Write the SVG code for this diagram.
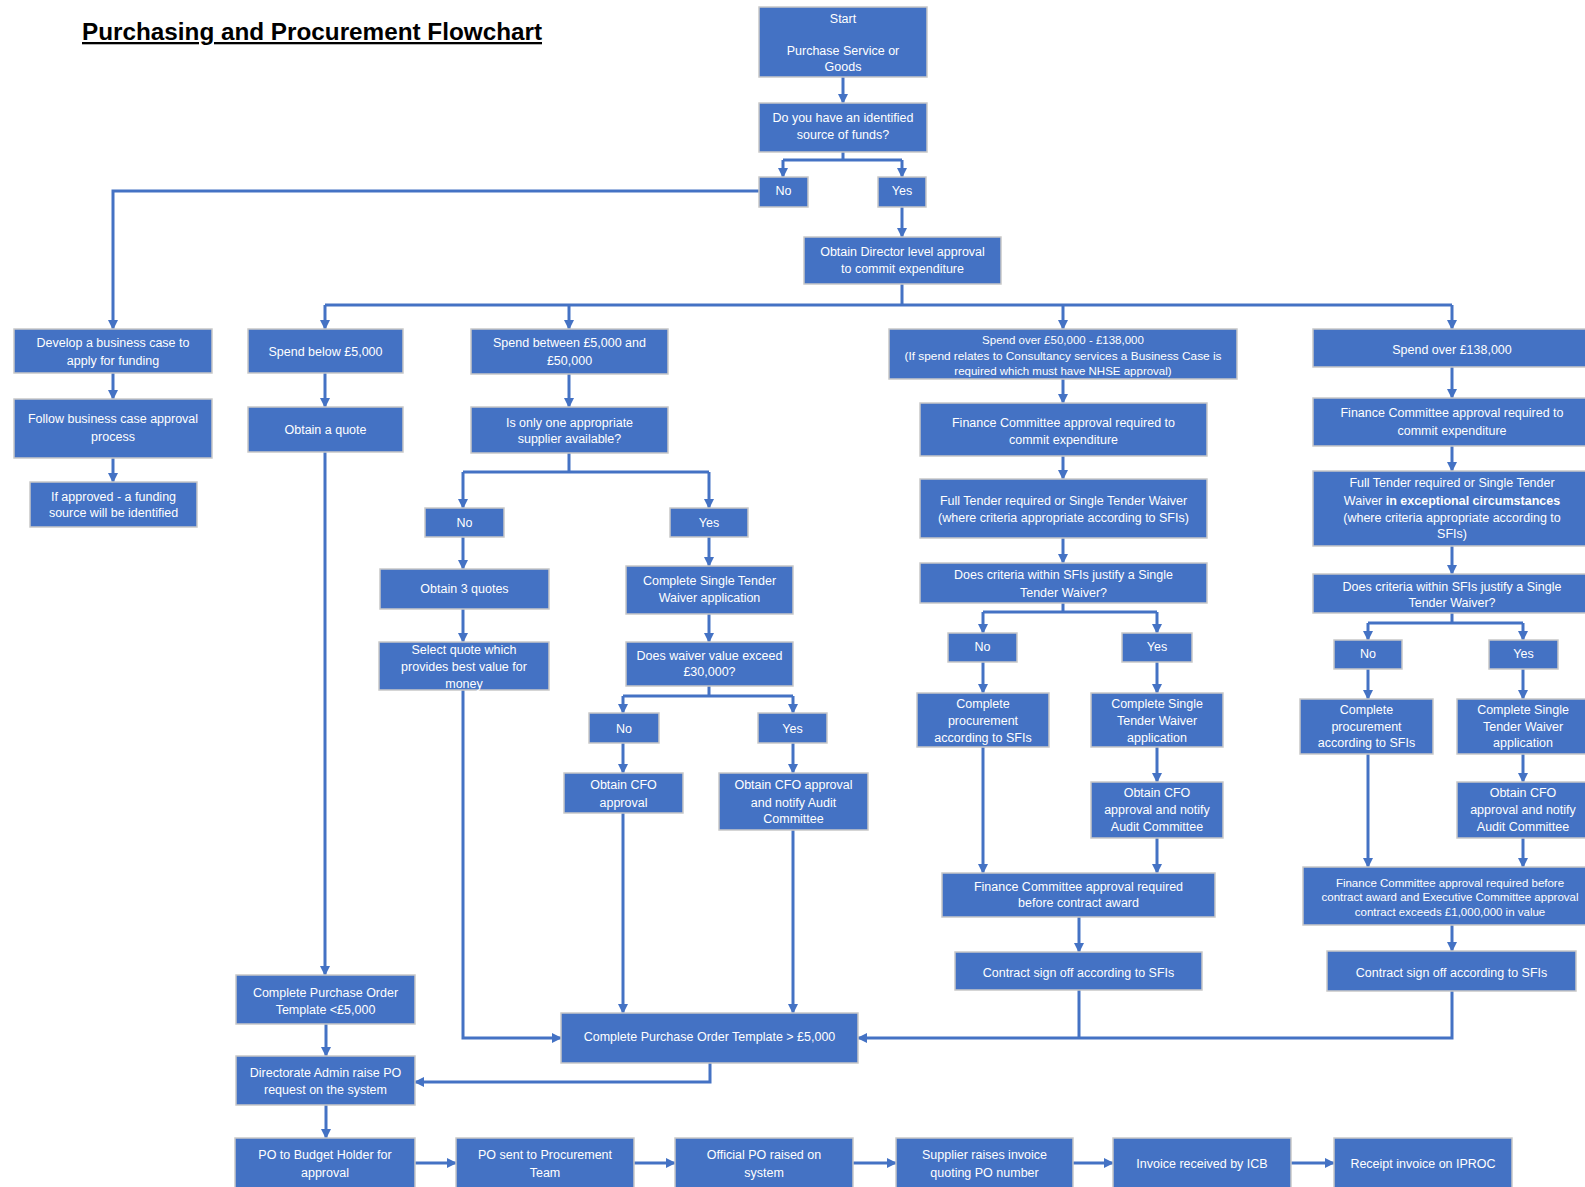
<svg xmlns="http://www.w3.org/2000/svg" width="1585" height="1187" viewBox="0 0 1585 1187">
<style>
.box{fill:#4472C4;stroke:#c8c8c8;stroke-width:1.5}
.t{font-family:"Liberation Sans",Arial,sans-serif;font-size:12.5px;fill:#ffffff;text-anchor:middle;dominant-baseline:central}
.s{font-size:11.5px}
.c{fill:none;stroke:#4472C4;stroke-width:3}
.ca{fill:none;stroke:#4472C4;stroke-width:3;marker-end:url(#ah)}
.title{font-family:"Liberation Sans",Arial,sans-serif;font-size:23px;font-weight:bold;fill:#000;text-decoration:underline}
</style>
<defs>
<marker id="ah" viewBox="0 0 10 10" markerWidth="10" markerHeight="10" refX="9" refY="5" orient="auto" markerUnits="userSpaceOnUse">
<path d="M0,0 L10,5 L0,10 z" fill="#4472C4"/>
</marker>
</defs>
<rect width="1585" height="1187" fill="#ffffff"/>
<text class="title" x="82" y="40" textLength="460" lengthAdjust="spacingAndGlyphs">Purchasing and Procurement Flowchart</text>

<g id="connectors">
<path class="ca" d="M843,77 V103"/>
<path class="c" d="M843,152 V160 M783,160 H902"/>
<path class="ca" d="M783,160 V177"/>
<path class="ca" d="M902,160 V177"/>
<path class="ca" d="M759,191 H113 V329"/>
<path class="ca" d="M902,207 V237"/>
<path class="c" d="M902,284 V305 M325,305 H1452"/>
<path class="ca" d="M325,305 V329"/>
<path class="ca" d="M569,305 V329"/>
<path class="ca" d="M1063,305 V329"/>
<path class="ca" d="M1452,305 V329"/>
<path class="ca" d="M113,373 V399"/>
<path class="ca" d="M113,458 V482"/>
<path class="ca" d="M325,373 V407"/>
<path class="ca" d="M325,452 V975"/>
<path class="ca" d="M569,374 V407"/>
<path class="c" d="M569,453 V472 M463,472 H709"/>
<path class="ca" d="M463,472 V508"/>
<path class="ca" d="M709,472 V508"/>
<path class="ca" d="M463,537 V569"/>
<path class="ca" d="M463,609 V642"/>
<path class="ca" d="M463,690 V1038 H561"/>
<path class="ca" d="M709,537 V566"/>
<path class="ca" d="M709,614 V642"/>
<path class="c" d="M709,686 V696 M623,696 H793"/>
<path class="ca" d="M623,696 V713"/>
<path class="ca" d="M793,696 V713"/>
<path class="ca" d="M623,743 V773"/>
<path class="ca" d="M793,743 V773"/>
<path class="ca" d="M623,813 V1013"/>
<path class="ca" d="M793,830 V1013"/>
<path class="ca" d="M710,1063 V1082 H415"/>
<path class="ca" d="M326,1024 V1056"/>
<path class="ca" d="M326,1105 V1138"/>
<path class="ca" d="M415,1163 H456"/>
<path class="ca" d="M634,1163 H675"/>
<path class="ca" d="M853,1163 H896"/>
<path class="ca" d="M1073,1163 H1113"/>
<path class="ca" d="M1291,1163 H1334"/>
<path class="ca" d="M1063,379 V403"/>
<path class="ca" d="M1063,456 V479"/>
<path class="ca" d="M1063,538 V563"/>
<path class="c" d="M1063,603 V612 M983,612 H1157"/>
<path class="ca" d="M983,612 V633"/>
<path class="ca" d="M1157,612 V633"/>
<path class="ca" d="M983,662 V693"/>
<path class="ca" d="M1157,662 V693"/>
<path class="ca" d="M1157,747 V782"/>
<path class="ca" d="M983,747 V873"/>
<path class="ca" d="M1157,838 V873"/>
<path class="ca" d="M1079,917 V952"/>
<path class="c" d="M1079,990 V1038"/>
<path class="ca" d="M1452,367 V398"/>
<path class="ca" d="M1452,446 V471"/>
<path class="ca" d="M1452,546 V574"/>
<path class="c" d="M1452,613 V623 M1368,623 H1523"/>
<path class="ca" d="M1368,623 V640"/>
<path class="ca" d="M1523,623 V640"/>
<path class="ca" d="M1368,669 V699"/>
<path class="ca" d="M1523,669 V699"/>
<path class="ca" d="M1523,754 V782"/>
<path class="ca" d="M1368,754 V867"/>
<path class="ca" d="M1523,838 V867"/>
<path class="ca" d="M1452,925 V951"/>
<path class="ca" d="M1452,991 V1038 H858"/>
</g>

<g id="start"><rect class="box" x="759" y="7" width="168" height="70"/><text class="t" x="843" y="19">Start</text><text class="t" x="843" y="51">Purchase Service or</text><text class="t" x="843" y="67">Goods</text></g>
<g id="source"><rect class="box" x="759" y="103" width="168" height="49"/><text class="t" x="843" y="118">Do you have an identified</text><text class="t" x="843" y="135">source of funds?</text></g>
<g id="no1"><rect class="box" x="759" y="177" width="49" height="30"/><text class="t" x="783.5" y="191">No</text></g>
<g id="yes1"><rect class="box" x="878" y="177" width="48" height="30"/><text class="t" x="902" y="191">Yes</text></g>
<g id="director"><rect class="box" x="804" y="237" width="197" height="47"/><text class="t" x="902.5" y="252">Obtain Director level approval</text><text class="t" x="902.5" y="269">to commit expenditure</text></g>

<g id="develop"><rect class="box" x="14" y="329" width="198" height="44"/><text class="t" x="113" y="343">Develop a business case to</text><text class="t" x="113" y="361">apply for funding</text></g>
<g id="follow"><rect class="box" x="14" y="399" width="198" height="59"/><text class="t" x="113" y="419">Follow business case approval</text><text class="t" x="113" y="437">process</text></g>
<g id="approved"><rect class="box" x="30" y="482" width="167" height="45"/><text class="t" x="113.5" y="497">If approved - a funding</text><text class="t" x="113.5" y="513">source will be identified</text></g>

<g id="below"><rect class="box" x="248" y="329" width="155" height="44"/><text class="t" x="325.5" y="352">Spend below £5,000</text></g>
<g id="quote"><rect class="box" x="248" y="407" width="155" height="45"/><text class="t" x="325.5" y="430">Obtain a quote</text></g>

<g id="between"><rect class="box" x="471" y="329" width="197" height="45"/><text class="t" x="569.5" y="343">Spend between £5,000 and</text><text class="t" x="569.5" y="361">£50,000</text></g>
<g id="onlysupplier"><rect class="box" x="471" y="407" width="197" height="46"/><text class="t" x="569.5" y="423">Is only one appropriate</text><text class="t" x="569.5" y="439">supplier available?</text></g>
<g id="no2"><rect class="box" x="425" y="508" width="79" height="29"/><text class="t" x="464.5" y="523">No</text></g>
<g id="yes2"><rect class="box" x="670" y="508" width="78" height="29"/><text class="t" x="709" y="523">Yes</text></g>
<g id="quotes3"><rect class="box" x="380" y="569" width="169" height="40"/><text class="t" x="464.5" y="589">Obtain 3 quotes</text></g>
<g id="selectquote"><rect class="box" x="379" y="642" width="170" height="48"/><text class="t" x="464" y="650">Select quote which</text><text class="t" x="464" y="667">provides best value for</text><text class="t" x="464" y="684">money</text></g>
<g id="stw2"><rect class="box" x="626" y="566" width="167" height="48"/><text class="t" x="709.5" y="581">Complete Single Tender</text><text class="t" x="709.5" y="598">Waiver application</text></g>
<g id="waiver30k"><rect class="box" x="626" y="642" width="167" height="44"/><text class="t" x="709.5" y="656">Does waiver value exceed</text><text class="t" x="709.5" y="672">£30,000?</text></g>
<g id="no3"><rect class="box" x="589" y="713" width="70" height="30"/><text class="t" x="624" y="729">No</text></g>
<g id="yes3"><rect class="box" x="758" y="713" width="69" height="30"/><text class="t" x="792.5" y="729">Yes</text></g>
<g id="cfo3"><rect class="box" x="564" y="773" width="119" height="40"/><text class="t" x="623.5" y="785">Obtain CFO</text><text class="t" x="623.5" y="803">approval</text></g>
<g id="cfonotify3"><rect class="box" x="719" y="773" width="149" height="57"/><text class="t" x="793.5" y="785">Obtain CFO approval</text><text class="t" x="793.5" y="803">and notify Audit</text><text class="t" x="793.5" y="819">Committee</text></g>

<g id="po_lt"><rect class="box" x="236" y="975" width="179" height="49"/><text class="t" x="325.5" y="993">Complete Purchase Order</text><text class="t" x="325.5" y="1010">Template &lt;£5,000</text></g>
<g id="po_gt"><rect class="box" x="561" y="1013" width="297" height="50"/><text class="t" x="709.5" y="1037">Complete Purchase Order Template &gt; £5,000</text></g>
<g id="directorate"><rect class="box" x="236" y="1056" width="179" height="49"/><text class="t" x="325.5" y="1073">Directorate Admin raise PO</text><text class="t" x="325.5" y="1090">request on the system</text></g>
<g id="budget"><rect class="box" x="235" y="1138" width="180" height="56"/><text class="t" x="325" y="1155">PO to Budget Holder for</text><text class="t" x="325" y="1173">approval</text></g>
<g id="procteam"><rect class="box" x="456" y="1138" width="178" height="56"/><text class="t" x="545" y="1155">PO sent to Procurement</text><text class="t" x="545" y="1173">Team</text></g>
<g id="official"><rect class="box" x="675" y="1138" width="178" height="56"/><text class="t" x="764" y="1155">Official PO raised on</text><text class="t" x="764" y="1173">system</text></g>
<g id="supplier"><rect class="box" x="896" y="1138" width="177" height="56"/><text class="t" x="984.5" y="1155">Supplier raises invoice</text><text class="t" x="984.5" y="1173">quoting PO number</text></g>
<g id="icb"><rect class="box" x="1113" y="1138" width="178" height="56"/><text class="t" x="1202" y="1164">Invoice received by ICB</text></g>
<g id="iproc"><rect class="box" x="1334" y="1138" width="178" height="56"/><text class="t" x="1423" y="1164">Receipt invoice on IPROC</text></g>

<g id="over50k"><rect class="box" x="889" y="329" width="348" height="50"/><text class="t s" x="1063" y="340">Spend over £50,000 - £138,000</text><text class="t s" x="1063" y="356" textLength="317" lengthAdjust="spacingAndGlyphs">(If spend relates to Consultancy services a Business Case is</text><text class="t s" x="1063" y="371">required which must have NHSE approval)</text></g>
<g id="fc4"><rect class="box" x="920" y="403" width="287" height="53"/><text class="t" x="1063.5" y="423">Finance Committee approval required to</text><text class="t" x="1063.5" y="440">commit expenditure</text></g>
<g id="ft4"><rect class="box" x="920" y="479" width="287" height="59"/><text class="t" x="1063.5" y="501">Full Tender required or Single Tender Waiver</text><text class="t" x="1063.5" y="518">(where criteria appropriate according to SFIs)</text></g>
<g id="crit4"><rect class="box" x="920" y="563" width="287" height="40"/><text class="t" x="1063.5" y="575">Does criteria within SFIs justify a Single</text><text class="t" x="1063.5" y="593">Tender Waiver?</text></g>
<g id="no4"><rect class="box" x="948" y="633" width="69" height="29"/><text class="t" x="982.5" y="647">No</text></g>
<g id="yes4"><rect class="box" x="1122" y="633" width="70" height="29"/><text class="t" x="1157" y="647">Yes</text></g>
<g id="cp4"><rect class="box" x="917" y="693" width="132" height="54"/><text class="t" x="983" y="704">Complete</text><text class="t" x="983" y="721">procurement</text><text class="t" x="983" y="738">according to SFIs</text></g>
<g id="stw4"><rect class="box" x="1091" y="693" width="132" height="54"/><text class="t" x="1157" y="704">Complete Single</text><text class="t" x="1157" y="721">Tender Waiver</text><text class="t" x="1157" y="738">application</text></g>
<g id="cfo4"><rect class="box" x="1091" y="782" width="132" height="56"/><text class="t" x="1157" y="793">Obtain CFO</text><text class="t" x="1157" y="810">approval and notify</text><text class="t" x="1157" y="827">Audit Committee</text></g>
<g id="fcb4"><rect class="box" x="942" y="873" width="273" height="44"/><text class="t" x="1078.5" y="887">Finance Committee approval required</text><text class="t" x="1078.5" y="903">before contract award</text></g>
<g id="sign4"><rect class="box" x="955" y="952" width="247" height="38"/><text class="t" x="1078.5" y="973">Contract sign off according to SFIs</text></g>

<g id="over138k"><rect class="box" x="1313" y="329" width="280" height="38"/><text class="t" x="1452" y="350">Spend over £138,000</text></g>
<g id="fc5"><rect class="box" x="1313" y="398" width="280" height="48"/><text class="t" x="1452" y="413">Finance Committee approval required to</text><text class="t" x="1452" y="431">commit expenditure</text></g>
<g id="ft5"><rect class="box" x="1313" y="471" width="280" height="75"/><text class="t" x="1452" y="483">Full Tender required or Single Tender</text><text class="t" x="1452" y="501">Waiver <tspan font-weight="bold">in exceptional circumstances</tspan></text><text class="t" x="1452" y="518">(where criteria appropriate according to</text><text class="t" x="1452" y="534">SFIs)</text></g>
<g id="crit5"><rect class="box" x="1313" y="574" width="280" height="39"/><text class="t" x="1452" y="587">Does criteria within SFIs justify a Single</text><text class="t" x="1452" y="603">Tender Waiver?</text></g>
<g id="no5"><rect class="box" x="1334" y="640" width="68" height="29"/><text class="t" x="1368" y="654">No</text></g>
<g id="yes5"><rect class="box" x="1489" y="640" width="69" height="29"/><text class="t" x="1523.5" y="654">Yes</text></g>
<g id="cp5"><rect class="box" x="1300" y="699" width="133" height="55"/><text class="t" x="1366.5" y="710">Complete</text><text class="t" x="1366.5" y="727">procurement</text><text class="t" x="1366.5" y="743">according to SFIs</text></g>
<g id="stw5"><rect class="box" x="1457" y="699" width="134" height="55"/><text class="t" x="1523" y="710">Complete Single</text><text class="t" x="1523" y="727">Tender Waiver</text><text class="t" x="1523" y="743">application</text></g>
<g id="cfo5"><rect class="box" x="1457" y="782" width="134" height="56"/><text class="t" x="1523" y="793">Obtain CFO</text><text class="t" x="1523" y="810">approval and notify</text><text class="t" x="1523" y="827">Audit Committee</text></g>
<g id="fcb5"><rect class="box" x="1303" y="867" width="295" height="58"/><text class="t s" x="1450" y="883">Finance Committee approval required before</text><text class="t s" x="1450" y="897">contract award and Executive Committee approval</text><text class="t s" x="1450" y="912">contract exceeds £1,000,000 in value</text></g>
<g id="sign5"><rect class="box" x="1327" y="951" width="249" height="40"/><text class="t" x="1451.5" y="973">Contract sign off according to SFIs</text></g>
</svg>
